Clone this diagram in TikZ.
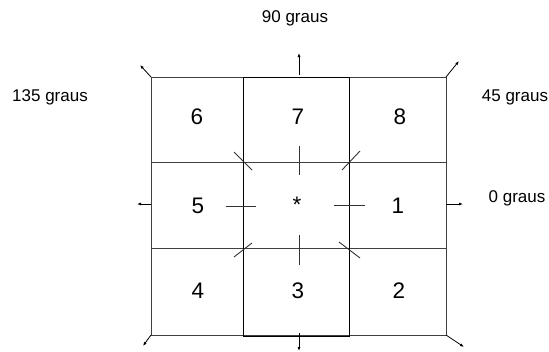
\documentclass[tikz,border=0pt]{standalone}
\usepackage{fontspec}
\setmainfont{Liberation Sans}
\usetikzlibrary{arrows.meta}
\tikzset{
  grid/.style={draw=black!75, line width=0.9pt},
  midcol/.style={draw=black, line width=1pt},
  tick/.style={draw=black!80, line width=0.9pt},
  dirarrow/.style={draw=black, line width=0.8pt, -{Latex[length=4pt,width=3pt]}},
  digit/.style={font=\fontsize{22.5}{22.5}\selectfont, inner sep=0pt},
  label/.style={font=\fontsize{17}{17}\selectfont, inner sep=0pt},
}
\begin{document}
\begin{tikzpicture}[x=1pt,y=-1pt]
\useasboundingbox (0,0) rectangle (549,351);
% corners
\coordinate (TL) at (151,77);
\coordinate (TR) at (446,77);
\coordinate (BL) at (151,335);
\coordinate (BR) at (446,335);
\coordinate (L) at (151,204);
\coordinate (R) at (446,204);
\coordinate (T) at (299,75);
\coordinate (B) at (299,333);
% grid
\draw[grid] (151,77) rectangle (446,335);
\draw[grid] (151,162) rectangle (446,248);
\draw[midcol] (243,77) rectangle (349,336);
% ticks
\draw[tick] (299,146) -- (299,175);
\draw[tick] (299,235) -- (299,265);
\draw[tick] (226,206) -- (256,206);
\draw[tick] (334,205) -- (365,205);
\draw[tick] (234,152) -- (252,170);
\draw[tick] (342,170) -- (360,151);
\draw[tick] (234,257) -- (252,243);
\draw[tick] (339,242) -- (360,258);
% direction arrows
\coordinate (aTL) at (140,65);
\coordinate (aT) at (299,53);
\coordinate (aTR) at (459,61);
\coordinate (aL) at (137,204);
\coordinate (aR) at (463,204);
\coordinate (aBL) at (143,346);
\coordinate (aB) at (299,351);
\coordinate (aBR) at (464,347);
\draw[dirarrow] (TL) -- (aTL);
\draw[dirarrow] (T) -- (aT);
\draw[dirarrow] (TR) -- (aTR);
\draw[dirarrow] (L) -- (aL);
\draw[dirarrow] (R) -- (aR);
\draw[dirarrow] (BL) -- (aBL);
\draw[dirarrow] (B) -- (aB);
\draw[dirarrow] (BR) -- (aBR);
% numbers
\node[digit] (n6) at (197,117) {6};
\node[digit] (n7) at (298,117) {7};
\node[digit] (n8) at (400,117) {8};
\node[digit] (n5) at (198,206) {5};
\node[digit] (nc) at (297,205) {*};
\node[digit] (n1) at (398,206) {1};
\node[digit] (n4) at (198,291) {4};
\node[digit] (n3) at (298,291) {3};
\node[digit] (n2) at (399,291) {2};
% labels
\node[label] (l90) at (295,18) {90 graus};
\node[label] (l135) at (50,97) {135 graus};
\node[label] (l45) at (515,97) {45 graus};
\node[label] (l0) at (517,198) {0 graus};
\end{tikzpicture}
\end{document}
